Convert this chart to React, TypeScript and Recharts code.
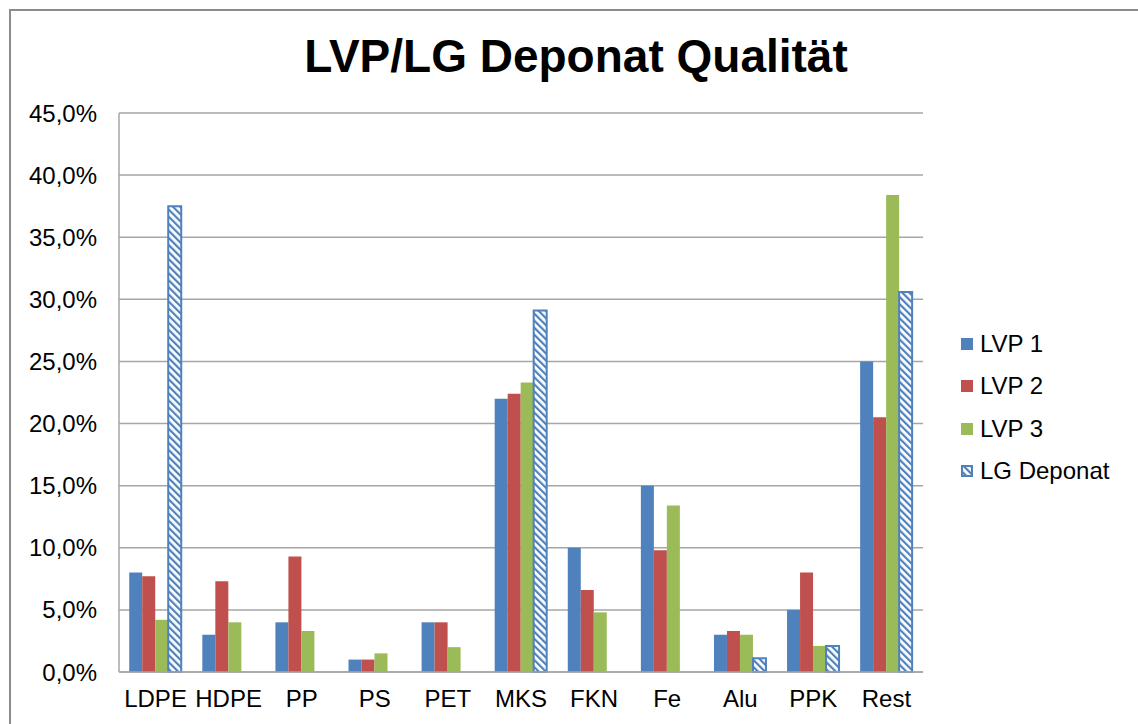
import React from "react";
import { BarChart, Bar, XAxis, YAxis, CartesianGrid } from "recharts";

const CATEGORIES = ["LDPE", "HDPE", "PP", "PS", "PET", "MKS", "FKN", "Fe", "Alu", "PPK", "Rest"];
const LVP1 = [8.0, 3.0, 4.0, 1.0, 4.0, 22.0, 10.0, 15.0, 3.0, 5.0, 25.0];
const LVP2 = [7.7, 7.3, 9.3, 1.0, 4.0, 22.4, 6.6, 9.8, 3.3, 8.0, 20.5];
const LVP3 = [4.2, 4.0, 3.3, 1.5, 2.0, 23.3, 4.8, 13.4, 3.0, 2.1, 38.4];
const LG_DEPONAT = [37.5, 0, 0, 0, 0, 29.1, 0, 0, 1.1, 2.1, 30.6];
const Y_TICKS = [0, 5, 10, 15, 20, 25, 30, 35, 40, 45];

const BLUE = "#4F81BD";
const RED = "#C0504D";
const GREEN = "#9BBB59";
const GRID = "#A6A6A6";
const FONT = "'Liberation Sans', Arial, sans-serif";

const data = CATEGORIES.map((c, i) => ({
  name: c,
  lvp1: LVP1[i],
  lvp2: LVP2[i],
  lvp3: LVP3[i],
  lg: LG_DEPONAT[i] || null,
}));

const SERIES = [
  { key: "lvp1", label: "LVP 1", fill: BLUE },
  { key: "lvp2", label: "LVP 2", fill: RED },
  { key: "lvp3", label: "LVP 3", fill: GREEN },
  { key: "lg", label: "LG Deponat", fill: "url(#hatch)" },
];

const fmt = (v: number) => `${v.toFixed(1).replace(".", ",")}%`;

export default function App() {
  return (
    <div style={{ position: "absolute", left: 0, top: 0, width: 1138, height: 724, background: "#fff", overflow: "hidden", fontFamily: FONT }}>
      <svg width={0} height={0} style={{ position: "absolute" }}>
        <defs>
          <pattern id="hatch" patternUnits="userSpaceOnUse" width={5} height={5} patternTransform="rotate(-45)">
            <rect width={5} height={5} fill="#fff" />
            <rect width={2.2} height={5} fill={BLUE} />
          </pattern>
        </defs>
      </svg>
      <div style={{ position: "absolute", left: 9, top: 9, width: 1140, height: 730, border: "2px solid #8c8c8c", boxSizing: "border-box" }} />
      <div style={{ position: "absolute", left: 0, width: 1152, top: 33, textAlign: "center", fontSize: 46, lineHeight: "46px", fontWeight: "bold", color: "#000" }}>
        LVP/LG Deponat Qualität
      </div>
      <div style={{ position: "absolute", left: 0, top: 0 }}>
        <BarChart width={1138} height={724} data={data} margin={{ top: 113, right: 215, bottom: 12, left: 9 }} barCategoryGap="14%" barGap={0}>
          <CartesianGrid vertical={false} stroke={GRID} strokeWidth={1.5} />
          <XAxis dataKey="name" height={40} tickSize={0} tickMargin={18} axisLine={{ stroke: GRID, strokeWidth: 1.5 }} tickLine={false}
            tick={{ fill: "#000", fontSize: 24, fontFamily: FONT }} interval={0} />
          <YAxis width={110} domain={[0, 45]} ticks={Y_TICKS} tickFormatter={fmt} tickSize={0} tickMargin={22}
            axisLine={{ stroke: GRID, strokeWidth: 1.5 }} tickLine={false} tick={{ fill: "#000", fontSize: 24, fontFamily: FONT }} />
          {SERIES.map((s) => (
            <Bar key={s.key} dataKey={s.key} name={s.label} fill={s.fill} isAnimationActive={false}
              stroke={s.key === "lg" ? BLUE : undefined} strokeWidth={s.key === "lg" ? 2 : 0} />
          ))}
        </BarChart>
      </div>
      <div style={{ position: "absolute", left: 961, top: 323 }}>
        {SERIES.map((s) => (
          <div key={s.key} style={{ display: "flex", alignItems: "center", height: 42.3, fontSize: 24, color: "#000" }}>
            <svg width={12} height={12} style={{ marginRight: 7, flex: "none" }}>
              <rect x={s.key === "lg" ? 1 : 0} y={s.key === "lg" ? 1 : 0} width={s.key === "lg" ? 10 : 12} height={s.key === "lg" ? 10 : 12}
                fill={s.fill} stroke={s.key === "lg" ? BLUE : "none"} strokeWidth={2} />
            </svg>
            <span>{s.label}</span>
          </div>
        ))}
      </div>
    </div>
  );
}
